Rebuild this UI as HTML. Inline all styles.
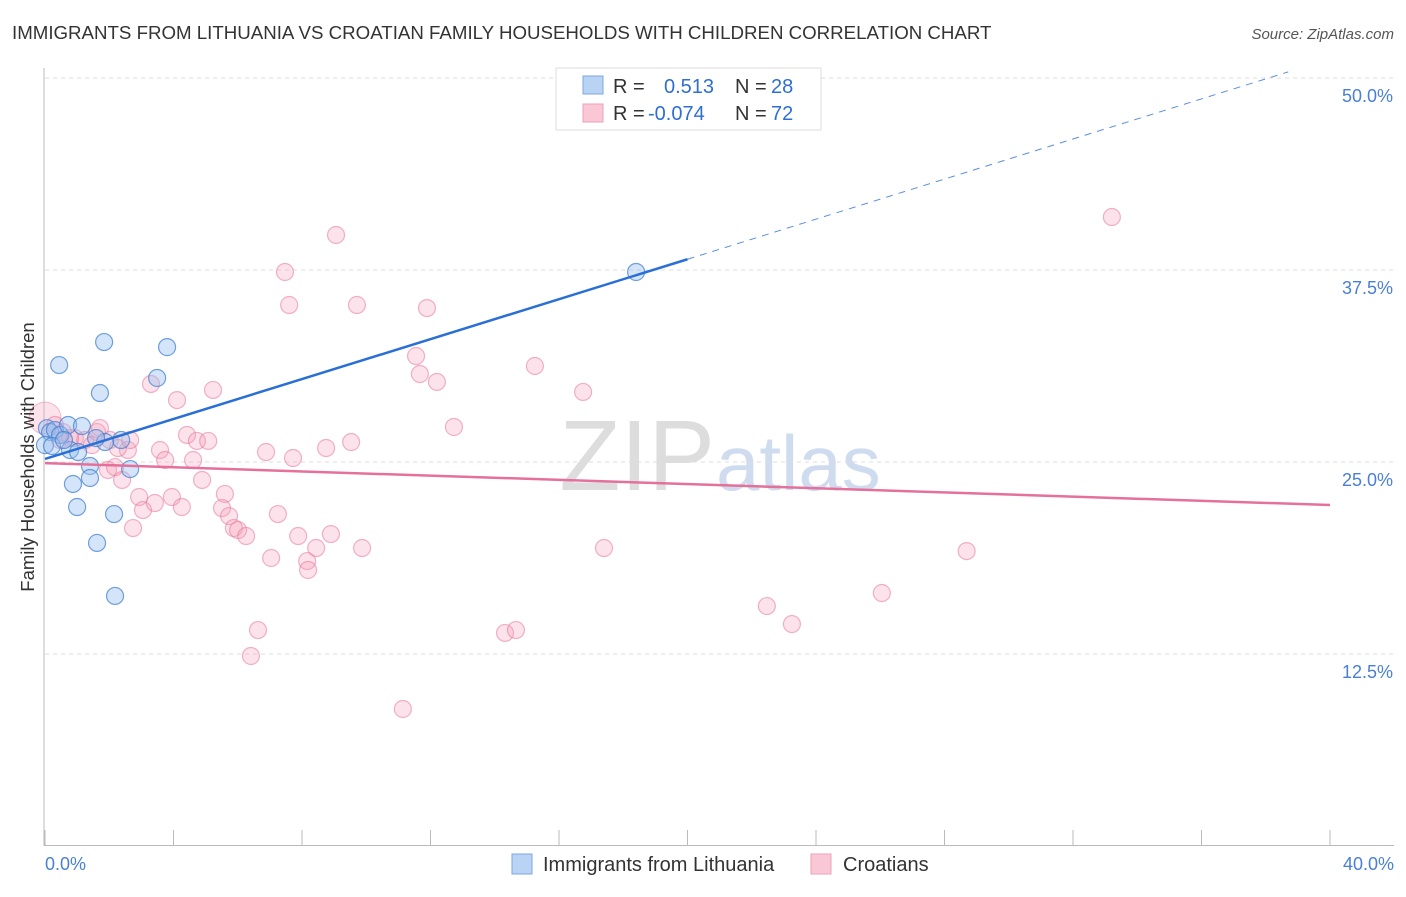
<!DOCTYPE html>
<html><head><meta charset="utf-8"><style>
body{margin:0;background:#fff;font-family:"Liberation Sans",sans-serif;}
svg text{font-family:"Liberation Sans",sans-serif;}
</style></head><body>
<svg id="chart" width="1406" height="892" viewBox="0 0 1406 892">
<text x="12" y="39" font-size="18.7" fill="#333">IMMIGRANTS FROM LITHUANIA VS CROATIAN FAMILY HOUSEHOLDS WITH CHILDREN CORRELATION CHART</text>
<text x="1394" y="39" font-size="15" fill="#555" text-anchor="end" font-style="italic">Source: ZipAtlas.com</text>
<text x="715" y="490" font-size="100" fill="#ddd" text-anchor="end" font-family="Liberation Serif">ZIP</text>
<text x="716" y="490" font-size="78" fill="#cfdcef">atlas</text>
<g id="grid"></g><g id="axes"></g><g id="pts"></g><g id="lines"></g>
<text transform="translate(34,457) rotate(-90)" font-size="18.5" fill="#333" text-anchor="middle">Family Households with Children</text>
<text x="45" y="870" font-size="18" fill="#4a7fd4">0.0%</text>
<text x="1394" y="870" font-size="18" fill="#4a7fd4" text-anchor="end">40.0%</text>
<g>
<rect x="556" y="68" width="265" height="62" fill="#fff" stroke="#ddd"/>
<rect x="583" y="76" width="20" height="18" fill="#b9d3f5" stroke="#7ea7e0"/>
<rect x="583" y="104" width="20" height="18" fill="#f9c7d5" stroke="#eda0b8"/>
<text x="613" y="93" font-size="20" fill="#333">R =</text><text x="664" y="93" font-size="20" fill="#2f6fd0">0.513</text>
<text x="735" y="93" font-size="20" fill="#333">N =</text><text x="771" y="93" font-size="20" fill="#2f6fd0">28</text>
<text x="613" y="120" font-size="20" fill="#333">R =</text><text x="648" y="120" font-size="20" fill="#2f6fd0">-0.074</text>
<text x="735" y="120" font-size="20" fill="#333">N =</text><text x="771" y="120" font-size="20" fill="#2f6fd0">72</text>
</g>
<g>
<rect x="512" y="854" width="20" height="20" fill="#b9d3f5" stroke="#7ea7e0"/>
<text x="543" y="871" font-size="20" fill="#333">Immigrants from Lithuania</text>
<rect x="811" y="854" width="20" height="20" fill="#f9c7d5" stroke="#eda0b8"/>
<text x="843" y="871" font-size="20" fill="#333">Croatians</text>
</g>
</svg>
<script>
const yTicks=[12.5,25,37.5,50];
const yTickLabels=["12.5%","25.0%","37.5%","50.0%"];
const xTicks=[0,4,8,12,16,20,24,28,32,36,40];
const blueX=[0.06,0.16,0.31,0.47,0.72,1.15,0.78,1.03,1.40,1.40,0.87,1.00,1.62,2.15,2.18,1.71,0.44,1.84,3.49,3.80,2.37,2.65,1.87,1.59,18.40,0,0.22,0.59];
const blueY=[27.2,26.95,27.08,26.76,27.41,27.34,25.78,25.65,24.74,23.96,23.57,22.07,19.73,21.61,16.28,29.49,31.31,32.81,30.47,32.48,26.43,24.54,26.30,26.56,37.37,26.1,26.04,26.43];
const pinkX=[0.47,0.93,1.25,1.62,2.02,2.58,2.27,1.96,2.40,2.18,2.93,3.05,2.74,3.42,3.95,4.26,3.58,3.74,3.30,4.11,4.42,4.73,5.08,4.61,4.89,5.23,5.60,5.51,5.73,5.88,6.01,6.26,6.63,6.41,6.88,7.04,7.25,7.47,7.60,7.72,7.88,8.16,8.19,8.44,8.75,8.90,9.06,9.53,9.71,9.87,11.14,11.55,11.67,11.89,12.20,12.73,14.32,14.66,15.25,16.75,17.40,22.47,23.25,26.05,28.69,33.21,0.56,0.78,1.46,0.31,1.71,2.65];
const pinkY=[26.43,26.56,26.43,26.95,26.43,25.78,25.91,24.48,23.83,24.67,22.72,21.87,20.70,22.33,22.72,22.07,25.78,25.13,30.08,29.03,26.76,26.37,26.37,25.13,23.83,29.69,22.92,22.00,21.48,20.70,20.57,20.18,14.06,12.37,25.65,18.75,21.61,37.37,35.22,25.26,20.18,18.55,17.97,19.40,25.91,20.31,39.78,26.30,35.22,19.40,8.92,31.90,30.73,35.02,30.21,27.28,13.87,14.06,31.25,29.56,19.40,15.62,14.45,16.47,19.20,40.95,26.95,26.56,26.10,27.41,27.21,26.43];
const blueFit=[25.2,38.2,50.4];
const pinkFit=[24.93,22.2];
const X=v=>45+v/40*1285, Y=v=>846-v/12.5*192;
const NS="http://www.w3.org/2000/svg";
function mk(t,a,p){const e=document.createElementNS(NS,t);for(const k in a)e.setAttribute(k,a[k]);p.appendChild(e);return e;}
const grid=document.getElementById('grid'),axes=document.getElementById('axes'),pts=document.getElementById('pts'),lines=document.getElementById('lines');
yTicks.forEach((t,i)=>{
 const l=mk('line',{x1:45,x2:1394,y1:Y(t),y2:Y(t),stroke:'#ddd','stroke-dasharray':'4,4'},grid);
 
 
 const tx=mk('text',{x:1393,y:Y(t)+24,'font-size':18,fill:'#4a7fd4','text-anchor':'end'},grid);
 tx.textContent=yTickLabels[i];
 
 
});
const ya=mk('line',{x1:44,x2:44,y1:68,y2:846,stroke:'#bbb'},axes);


const xa=mk('line',{x1:44,x2:1394,y1:845.5,y2:845.5,stroke:'#bbb'},axes);


xTicks.forEach(t=>{const l=mk('line',{x1:X(t),x2:X(t),y1:830,y2:846,stroke:'#bbb'},axes);
 
 });
const big=mk('circle',{cx:X(0),cy:Y(27.86),r:16,fill:'rgba(244,160,186,0.3)',stroke:'rgba(230,130,160,0.5)'},pts);


pinkX.forEach((x,i)=>{const c=mk('circle',{cx:X(x),cy:Y(pinkY[i]),r:8.5,fill:'rgba(244,160,186,0.3)',stroke:'rgba(230,120,155,0.55)','stroke-width':1.2},pts);
 
 });
blueX.forEach((x,i)=>{const c=mk('circle',{cx:X(x),cy:Y(blueY[i]),r:8.5,fill:'rgba(150,190,240,0.4)',stroke:'rgba(70,130,210,0.75)','stroke-width':1.2},pts);
 
 });
const b1=mk('line',{x1:X(0),y1:Y(blueFit[0]),x2:X(20),y2:Y(blueFit[1]),stroke:'#2a6fd6','stroke-width':2.5},lines);


const b2=mk('line',{x1:X(20),y1:Y(blueFit[1]),x2:X(38.7),y2:Y(blueFit[2]),stroke:'#5a8fdc','stroke-width':1,'stroke-dasharray':'7,6'},lines);


const p1=mk('line',{x1:X(0),y1:Y(pinkFit[0]),x2:X(40),y2:Y(pinkFit[1]),stroke:'#e5709a','stroke-width':2.5},lines);


</script>
</body></html>
